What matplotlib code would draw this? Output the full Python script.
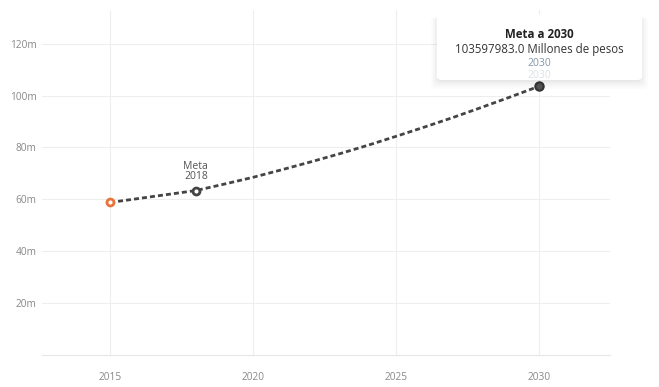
import matplotlib.pyplot as plt
from matplotlib.patches import FancyBboxPatch

plt.rcParams['font.family'] = ['Open Sans', 'DejaVu Sans']

# meta series (millions of pesos)
years = [2015, 2018, 2019, 2020, 2021, 2022, 2023, 2024, 2025, 2026, 2027, 2028, 2029, 2030]
values = [58.8, 63.4, 65.9, 68.5, 71.4, 74.4, 77.5, 80.8, 84.3, 87.9, 91.6, 95.5, 99.5, 103.598]
yticks = [20, 40, 60, 80, 100, 120]
xticks = [2015, 2020, 2025, 2030]

fig = plt.figure(figsize=(6.59, 3.87), dpi=100)
ax = fig.add_axes([42 / 659, 32 / 387, 568 / 659, 345 / 387])

ax.plot(years, values, color='#444444', lw=2, ls=(0, (1.8, 1.1)), zorder=3)
ax.plot(years[0], values[0], 'o', ms=5, mfc='white', mec='#E8743B', mew=2, zorder=4)
ax.plot(years[1], values[1], 'o', ms=5, mfc='white', mec='#444444', mew=2, zorder=4)
ax.plot(years[-1], values[-1], 'o', ms=6, mfc='#555555', mec='#333333', mew=1.5, zorder=4)

ax.annotate('Meta\n2018', (years[1], values[1]), xytext=(0, 6), textcoords='offset points',
            ha='center', va='bottom', fontsize=7.5, color='#555555', linespacing=0.95)
ax.annotate('2030', (years[-1], values[-1]), xytext=(0, 4), textcoords='offset points',
            ha='center', va='bottom', fontsize=7.5, color='#dde1e5', zorder=12)

ax.set_xlim(2012.62, 2032.48)
ax.set_ylim(0, 133)
ax.set_xticks(xticks)
ax.set_yticks(yticks)
ax.set_yticklabels([f'{v}m' for v in yticks])
ax.tick_params(length=0, labelsize=7.3, labelcolor='#888888')
ax.tick_params(axis='y', pad=4)
ax.tick_params(axis='x', pad=12)
ax.grid(True, color='#eeeeee', lw=0.8)
ax.set_axisbelow(True)
for s in ['top', 'right', 'left']:
    ax.spines[s].set_visible(False)
ax.spines['bottom'].set_color('#e6e6e6')

# tooltip (hover card)
for i, a in enumerate([0.03, 0.025, 0.02, 0.015]):
    sh = FancyBboxPatch((437 / 659 - i * 0.003, 1 - 82 / 387 - i * 0.006), 205 / 659 + i * 0.006, 65 / 387 + i * 0.006,
                        boxstyle='round,pad=0,rounding_size=0.01', transform=fig.transFigure,
                        fc='black', ec='none', alpha=a, zorder=9, clip_on=False)
    ax.add_patch(sh)
box = FancyBboxPatch((437 / 659, 1 - 80 / 387), 205 / 659, 65 / 387,
                     boxstyle='round,pad=0,rounding_size=0.008', transform=fig.transFigure,
                     fc='white', ec='none', zorder=10, clip_on=False)
ax.add_patch(box)
cx = 539.5 / 659
ax.text(cx, 1 - 35 / 387, 'Meta a 2030', transform=fig.transFigure, ha='center', va='center',
        fontsize=8.3, fontweight='bold', color='#222222', zorder=11)
ax.text(cx, 1 - 50 / 387, '103597983.0 Millones de pesos', transform=fig.transFigure, ha='center', va='center',
        fontsize=8.3, color='#333333', zorder=11)
ax.text(cx, 1 - 64 / 387, '2030', transform=fig.transFigure, ha='center', va='center',
        fontsize=7.5, color='#8496a8', zorder=11)

fig.savefig('out.png', dpi=100)
